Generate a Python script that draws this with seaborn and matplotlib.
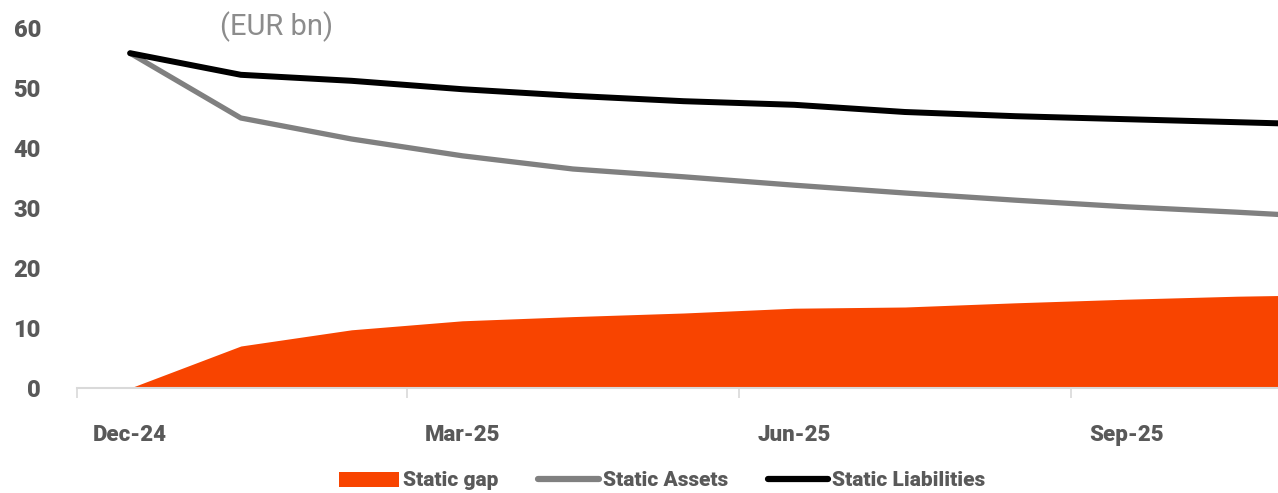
import numpy as np
import pandas as pd
import seaborn as sns
import matplotlib.pyplot as plt
from matplotlib.patches import Patch
from matplotlib.lines import Line2D

# Data (EUR bn), monthly from Dec-24
months = ['Dec-24', 'Jan-25', 'Feb-25', 'Mar-25', 'Apr-25', 'May-25',
          'Jun-25', 'Jul-25', 'Aug-25', 'Sep-25', 'Oct-25', 'Nov-25']
static_liabilities = [55.8, 52.2, 51.2, 49.8, 48.7, 47.8, 47.2, 46.0, 45.3, 44.8, 44.3, 43.8]
static_assets = [55.8, 45.0, 41.5, 38.7, 36.5, 35.2, 33.8, 32.5, 31.3, 30.2, 29.3, 28.3]
static_gap = [0.0, 7.0, 9.7, 11.2, 11.9, 12.5, 13.3, 13.5, 14.2, 14.8, 15.3, 15.6]

df = pd.DataFrame({'month': months, 'idx': np.arange(len(months)),
                   'Static Assets': static_assets,
                   'Static Liabilities': static_liabilities,
                   'Static gap': static_gap})

sns.set_theme(style='white')
plt.rcParams['font.family'] = ['Roboto', 'DejaVu Sans']

text_col = '#595959'
gap_col = '#F84400'
assets_col = '#808080'
liab_col = '#000000'

fig = plt.figure(figsize=(12.78, 4.93), dpi=100)
ax = fig.add_axes([77 / 1278, 105 / 493, 1 - 77 / 1278, 360 / 493])

# Area for the static gap
ax.fill_between(df['idx'], 0, df['Static gap'], color=gap_col, linewidth=0)

# Lines
sns.lineplot(data=df, x='idx', y='Static Assets', ax=ax, color=assets_col, linewidth=3.8)
sns.lineplot(data=df, x='idx', y='Static Liabilities', ax=ax, color=liab_col, linewidth=4.3)

ax.set_xlim(-0.48, 10.37)
ax.set_ylim(0, 60)
ax.set_xlabel('')
ax.set_ylabel('')

for s in ['top', 'right', 'left']:
    ax.spines[s].set_visible(False)
ax.spines['bottom'].set_color('#d9d9d9')
ax.spines['bottom'].set_linewidth(1.5)

# ticks between categories, labels every 3 months
ax.set_xticks([-0.48, 2.5, 5.5, 8.5])
ax.set_xticklabels([])
ax.tick_params(axis='x', which='major', length=7, width=1.2, color='#d9d9d9', bottom=True)
ax.set_xticks([0, 3, 6, 9], minor=True)
ax.set_xticklabels([months[i] for i in [0, 3, 6, 9]], minor=True)
ax.tick_params(axis='x', which='minor', length=0, pad=26, labelsize=16, labelcolor=text_col)
for lbl in ax.get_xticklabels(minor=True):
    lbl.set_fontweight('heavy')

ax.set_yticks(np.arange(0, 61, 10))
ax.tick_params(axis='y', length=0, pad=26, labelsize=17, labelcolor=text_col)
for lbl in ax.get_yticklabels():
    lbl.set_fontweight('heavy')

fig.text(277 / 1278, 1 - 27 / 493, '(EUR bn)', ha='center', va='center',
         fontsize=21, color='#8c8c8c')

handles = [Patch(facecolor=gap_col, edgecolor='none'),
           Line2D([0], [0], color=assets_col, linewidth=4.5),
           Line2D([0], [0], color=liab_col, linewidth=4.5)]
leg = fig.legend(handles, ['Static gap', 'Static Assets', 'Static Liabilities'],
                 loc='center', bbox_to_anchor=(662 / 1278, 1 - 481 / 493), ncol=3,
                 frameon=False, fontsize=15, handlelength=2.9, handletextpad=0.2,
                 columnspacing=1.9)
for t in leg.get_texts():
    t.set_color(text_col)
    t.set_fontweight('heavy')

fig.savefig('out.png', dpi=100)
